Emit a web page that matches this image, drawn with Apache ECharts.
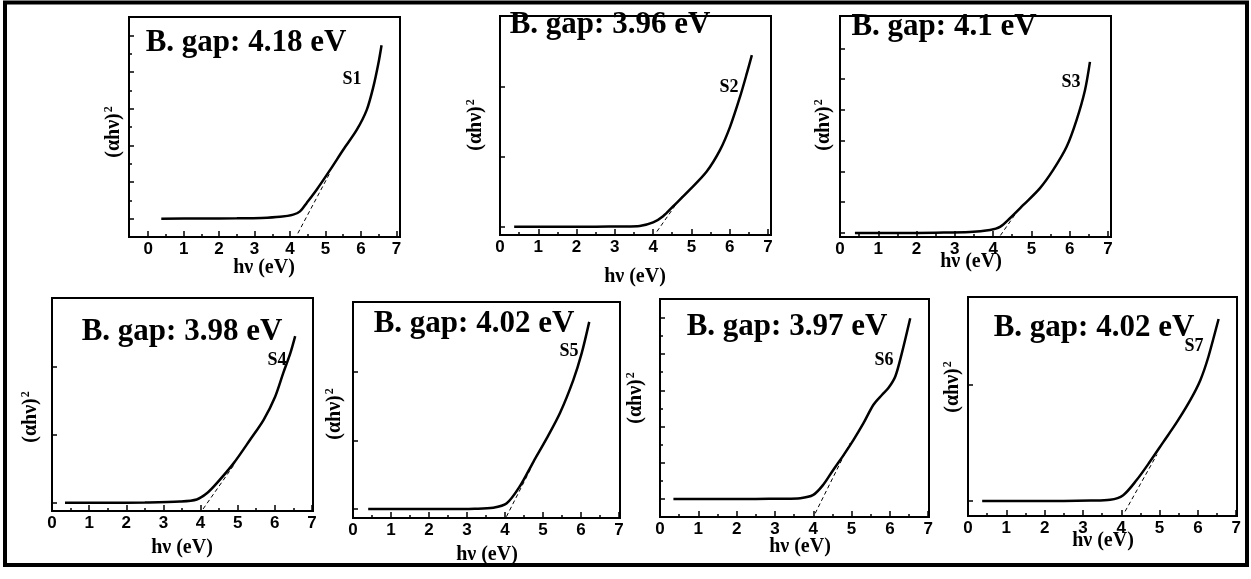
<!DOCTYPE html>
<html>
<head>
<meta charset="utf-8">
<script src="https://cdn.jsdelivr.net/npm/echarts/dist/echarts.min.js"></script>
<style>
html,body{margin:0;padding:0;background:#fff;}
#main{width:1251px;height:579px;}
</style>
</head>
<body>
<div id="main"></div>
<script>
// values, y in tick units (baseline = 0)
var bandGaps = ['4.18', '3.96', '4.1', '3.98', '4.02', '3.97', '4.02'];
var sampleNames = ['S1', 'S2', 'S3', 'S4', 'S5', 'S6', 'S7'];
var xTicks = [0, 1, 2, 3, 4, 5, 6, 7];
var xMinorTicks = [0.5, 1.5, 2.5, 3.5, 4.5, 5.5, 6.5];

var s1 = [[0.37,0],[1.5,0.005],[2.5,0.01],[3.2,0.02],[3.72,0.05],[4.09,0.11],[4.28,0.2],[4.47,0.43],[4.75,0.79],[5.13,1.33],[5.5,1.88],[5.88,2.42],[6.16,2.96],[6.35,3.6],[6.49,4.23],[6.58,4.73]];
var s2 = [[0.37,0],[1.5,0],[2.5,0],[3.2,0.003],[3.65,0.01],[4.0,0.06],[4.26,0.15],[4.52,0.29],[4.96,0.53],[5.4,0.79],[5.75,1.1],[6.01,1.43],[6.27,1.86],[6.45,2.2],[6.58,2.46]];
var s3 = [[0.39,0],[1.5,0],[2.5,0.01],[3.39,0.03],[3.92,0.1],[4.18,0.2],[4.44,0.48],[4.79,0.91],[5.22,1.45],[5.57,2.05],[5.92,2.8],[6.18,3.67],[6.4,4.64],[6.53,5.56]];
var s4 = [[0.35,0],[1.5,0],[2.5,0.005],[3.45,0.02],[3.9,0.05],[4.17,0.14],[4.44,0.29],[4.89,0.58],[5.34,0.93],[5.7,1.22],[6.01,1.56],[6.23,1.91],[6.42,2.2],[6.55,2.45]];
var s5 = [[0.4,0],[1.5,0],[2.5,0],[3.2,0.005],[3.69,0.02],[4.04,0.08],[4.39,0.33],[4.75,0.69],[5.1,1.03],[5.45,1.4],[5.8,1.88],[6.02,2.27],[6.22,2.73]];
var s6 = [[0.35,0],[1.5,0],[2.5,0],[3.2,0.005],[3.66,0.02],[4.0,0.11],[4.26,0.39],[4.52,0.8],[4.79,1.21],[5.05,1.63],[5.31,2.09],[5.57,2.6],[5.79,2.87],[5.96,3.06],[6.14,3.38],[6.31,4.02],[6.53,4.99]];
var s7 = [[0.37,0],[1.5,0],[2.5,0],[3.2,0.003],[3.71,0.01],[4.05,0.05],[4.4,0.18],[4.75,0.34],[5.1,0.51],[5.45,0.68],[5.8,0.87],[6.06,1.04],[6.27,1.24],[6.54,1.57]];

// dashed tangent lines
var s1Fit = [[4.22,-0.4],[5.13,1.26]];
var s2Fit = [[4.1,-0.07],[4.74,0.43]];
var s3Fit = [[4.19,-0.08],[4.72,0.86]];
var s4Fit = [[4.07,-0.09],[4.93,0.58]];
var s5Fit = [[4.04,-0.11],[4.68,0.59]];
var s6Fit = [[4.05,-0.4],[4.96,1.54]];
var s7Fit = [[4.1,-0.09],[4.93,0.4]];

var curves = [s1, s2, s3, s4, s5, s6, s7];
var fits = [s1Fit, s2Fit, s3Fit, s4Fit, s5Fit, s6Fit, s7Fit];

// axis ranges and y ticks for each panel
var xMin = [-0.54, 0, 0, 0, 0, 0, 0];
var xMax = [7.1, 7.08, 7.08, 7.03, 7.03, 7.02, 7.02];
var yMin = [-0.5, -0.12, -0.13, -0.12, -0.13, -0.5, -0.13];
var yMax = [5.5, 3.02, 7.05, 3.01, 3.02, 5.52, 1.76];
var yTicks = [[0,1,2,3,4,5],[0,1,2],[0,1,2,3,4,5,6],[0,1,2],[0,1,2],[0,1,2,3,4,5],[0,1]];
var yMinorTicks = [[0.5,1.5,2.5,3.5,4.5],[],[],[],[],[0.5,1.5,2.5,3.5,4.5],[]];

// layout (pixels)
var boxes = [
    {left:129, top:17, width:271, height:220},
    {left:500, top:16, width:271, height:219},
    {left:840, top:16, width:271, height:221},
    {left:52, top:298, width:261, height:213},
    {left:353, top:302, width:267, height:216},
    {left:660, top:299, width:269, height:218},
    {left:968, top:297, width:269, height:219}
];
var titlePos = [[246,43],[610,25],[944,27],[182,332],[474,324],[787,327],[1094,328]];
var namePos = [[352,79],[729,87],[1071,82],[277,360],[569,351],[884,360],[1194,346]];
var yNamePos = [[114,132],[476,125],[824,125],[31,417],[335,414],[636,398],[953,387]];
var xNamePos = [[264,268],[635,277],[971,262],[182,548],[487,555],[800,547],[1103,541]];

var SERIF = 'Liberation Serif';
var grid = [], xAxis = [], yAxis = [], series = [], graphic = [];

function tickAxis(i, pos, lo, hi, values, len) {
    return {
        gridIndex:i, type:'value', position:pos, min:lo, max:hi,
        axisLine:{show:false, onZero:false}, splitLine:{show:false}, axisLabel:{show:false},
        axisTick:{show:values.length > 0, inside:true, length:len,
            customValues:values.length ? values : [lo],
            lineStyle:{color:'#000', width:1.5}}
    };
}

for (var i = 0; i < curves.length; i++) {
    var b = boxes[i];
    grid.push({left:b.left, top:b.top, width:b.width, height:b.height,
        show:true, borderColor:'#000', borderWidth:2, backgroundColor:'transparent'});

    var xMain = tickAxis(i, 'bottom', xMin[i], xMax[i], xTicks, 6);
    xMain.axisLabel = {customValues:xTicks, margin:4, color:'#000', fontWeight:'bold',
        fontFamily:'Liberation Sans', fontSize:17};
    xAxis.push(xMain);
    xAxis.push(tickAxis(i, 'bottom', xMin[i], xMax[i], xMinorTicks, 3));
    yAxis.push(tickAxis(i, 'left', yMin[i], yMax[i], yTicks[i], 5));
    yAxis.push(tickAxis(i, 'left', yMin[i], yMax[i], yMinorTicks[i], 3));

    series.push({
        type:'line', xAxisIndex:i*2, yAxisIndex:i*2, data:curves[i],
        smooth:0.3, showSymbol:false, silent:true,
        lineStyle:{color:'#000', width:2.5}
    });
    series.push({
        type:'line', xAxisIndex:i*2, yAxisIndex:i*2, data:fits[i],
        showSymbol:false, silent:true,
        lineStyle:{color:'#000', width:1, type:[4,3]}
    });

    graphic.push({type:'text', x:titlePos[i][0], y:titlePos[i][1], z:10,
        style:{text:'B. gap: ' + bandGaps[i] + ' eV', fill:'#000', fontFamily:SERIF,
            fontWeight:'bold', fontSize:31, align:'center', verticalAlign:'middle'}});
    graphic.push({type:'text', x:namePos[i][0], y:namePos[i][1], z:10,
        style:{text:sampleNames[i], fill:'#000', fontFamily:SERIF,
            fontWeight:'bold', fontSize:18, align:'center', verticalAlign:'middle'}});
    graphic.push({type:'text', x:yNamePos[i][0], y:yNamePos[i][1], rotation:Math.PI / 2, z:10,
        style:{text:'(\u03b1h\u03bd){s|2}', fill:'#000', fontFamily:SERIF,
            fontWeight:'bold', fontSize:20, align:'center', verticalAlign:'middle',
            rich:{s:{fontSize:12, fontFamily:SERIF, fontWeight:'bold', fill:'#000',
                verticalAlign:'top', padding:[0,0,10,1]}}}});
    graphic.push({type:'text', x:xNamePos[i][0], y:xNamePos[i][1], z:10,
        style:{text:'h\u03bd (eV)', fill:'#000', fontFamily:SERIF,
            fontWeight:'bold', fontSize:20, align:'center', verticalAlign:'middle'}});
}

// outer frame
graphic.push({type:'rect', z:10, shape:{x:5, y:2.5, width:1242, height:562.5},
    style:{fill:'none', stroke:'#000', lineWidth:4}});

var chart = echarts.init(document.getElementById('main'));
chart.setOption({
    backgroundColor:'#fff',
    animation:false,
    grid:grid,
    xAxis:xAxis,
    yAxis:yAxis,
    series:series,
    graphic:graphic
});
</script>
</body>
</html>
